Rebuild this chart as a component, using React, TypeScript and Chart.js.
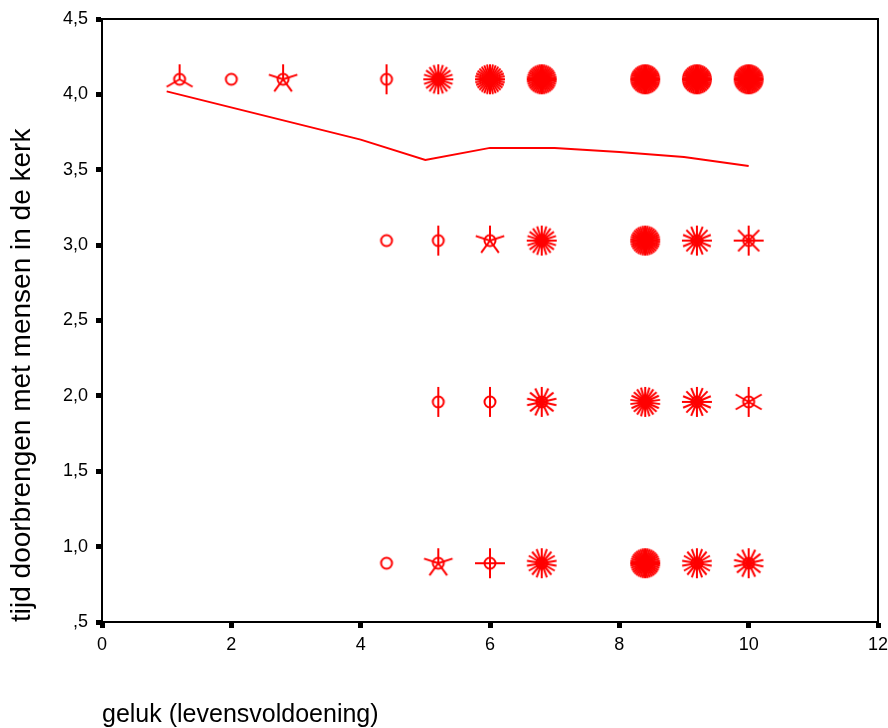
import React, { useEffect, useRef } from "react";
import { Chart, registerables } from "chart.js";

Chart.register(...registerables);

// Sunflower cell centres (x = geluk, y = tijd in de kerk)
const gelukCells = [1.2, 2.0, 2.8, 4.4, 5.2, 6.0, 6.8, 8.4, 9.2, 10.0];
const kerkCells = [4.1, 3.03, 1.96, 0.89];
// number of cases (petals) per cell, one row per kerkCell (0 = no sunflower)
const countsRow1 = [3, 1, 5, 2, 20, 32, 40, 44, 44, 44];
const countsRow2 = [0, 0, 0, 1, 2, 5, 20, 38, 16, 8];
const countsRow3 = [0, 0, 0, 0, 2, 2, 14, 22, 16, 6];
const countsRow4 = [0, 0, 0, 1, 5, 4, 18, 40, 18, 14];
const countRows = [countsRow1, countsRow2, countsRow3, countsRow4];

// fit line
const lineX = [1, 4, 5, 6, 7, 8, 9, 10];
const lineY = [4.02, 3.7, 3.565, 3.645, 3.645, 3.618, 3.585, 3.525];

const xTicks = { min: 0, max: 12, step: 2 };
const yTicks = { min: 0.5, max: 4.5, step: 0.5 };

const RED = "#ff0000";

function makeSunflower(n: number): HTMLCanvasElement {
  const size = 36;
  const c = document.createElement("canvas");
  c.width = size;
  c.height = size;
  const ctx = c.getContext("2d")!;
  const cx = size / 2;
  const cy = size / 2;
  ctx.strokeStyle = RED;
  ctx.lineWidth = 2;
  ctx.beginPath();
  ctx.arc(cx, cy, 5.5, 0, Math.PI * 2);
  ctx.stroke();
  if (n >= 2) {
    for (let i = 0; i < n; i++) {
      const a = -Math.PI / 2 + (i * 2 * Math.PI) / n;
      ctx.beginPath();
      ctx.moveTo(cx, cy);
      ctx.lineTo(cx + Math.cos(a) * 15, cy + Math.sin(a) * 15);
      ctx.stroke();
    }
  }
  return c;
}

const boxPlugin = {
  id: "boxPlugin",
  afterDraw(chart: any) {
    const { ctx, chartArea } = chart;
    ctx.save();
    ctx.strokeStyle = "#000";
    ctx.lineWidth = 2;
    ctx.strokeRect(chartArea.left, chartArea.top, chartArea.right - chartArea.left, chartArea.bottom - chartArea.top);
    ctx.restore();
  },
};

function fmtY(v: number): string {
  let s = v.toFixed(1).replace(".", ",");
  if (s.startsWith("0,")) s = s.substring(1);
  return s;
}

export default function App() {
  const ref = useRef<HTMLCanvasElement>(null);
  useEffect(() => {
    document.body.style.margin = "0";
    const pts: { x: number; y: number }[] = [];
    const styles: HTMLCanvasElement[] = [];
    kerkCells.forEach((yv, r) => {
      gelukCells.forEach((xv, i) => {
        const n = countRows[r][i];
        if (n > 0) {
          pts.push({ x: xv, y: yv });
          styles.push(makeSunflower(n));
        }
      });
    });
    const chart = new Chart(ref.current!, {
      type: "scatter",
      data: {
        datasets: [
          {
            type: "line",
            data: lineX.map((x, i) => ({ x, y: lineY[i] })),
            borderColor: RED,
            borderWidth: 2,
            pointRadius: 0,
            fill: false,
            tension: 0,
          } as any,
          {
            data: pts,
            pointStyle: styles as any,
            pointRadius: 18,
          },
        ],
      },
      options: {
        animation: false,
        responsive: false,
        maintainAspectRatio: false,
        layout: { autoPadding: false, padding: { top: 19, right: 10, left: 0, bottom: 0 } },
        plugins: { legend: { display: false }, tooltip: { enabled: false } },
        scales: {
          x: {
            type: "linear",
            min: xTicks.min,
            max: xTicks.max,
            afterFit: (s: any) => {
              s.height = 106;
              s.paddingLeft = 0;
              s.paddingRight = 0;
            },
            ticks: {
              stepSize: xTicks.step,
              color: "#000",
              padding: 6,
              font: { family: "Liberation Sans", size: 18 },
            },
            grid: { drawOnChartArea: false, tickLength: 6, tickWidth: 5, tickColor: "#000" },
            border: { color: "#000", width: 2 },
            title: {
              display: true,
              text: "geluk (levensvoldoening)",
              align: "start",
              color: "#000",
              font: { family: "Liberation Sans", size: 25, lineHeight: 1 },
              padding: { top: 0, bottom: 0 },
            },
          },
          y: {
            type: "linear",
            min: yTicks.min,
            max: yTicks.max,
            afterFit: (s: any) => {
              s.width = 102;
              s.paddingTop = 0;
              s.paddingBottom = 0;
            },
            ticks: {
              stepSize: yTicks.step,
              color: "#000",
              padding: 8,
              font: { family: "Liberation Sans", size: 18 },
              callback: (v: any) => fmtY(Number(v)),
            },
            grid: { drawOnChartArea: false, tickLength: 6, tickWidth: 5, tickColor: "#000" },
            border: { color: "#000", width: 2 },
            title: {
              display: true,
              text: "tijd doorbrengen met mensen in de kerk",
              align: "start",
              color: "#000",
              font: { family: "Liberation Sans", size: 28, lineHeight: 1 },
              padding: { top: 8, bottom: 0 },
            },
          },
        },
      },
      plugins: [boxPlugin],
    });
    return () => chart.destroy();
  }, []);
  return <canvas ref={ref} width={888} height={728} style={{ display: "block" }} />;
}
